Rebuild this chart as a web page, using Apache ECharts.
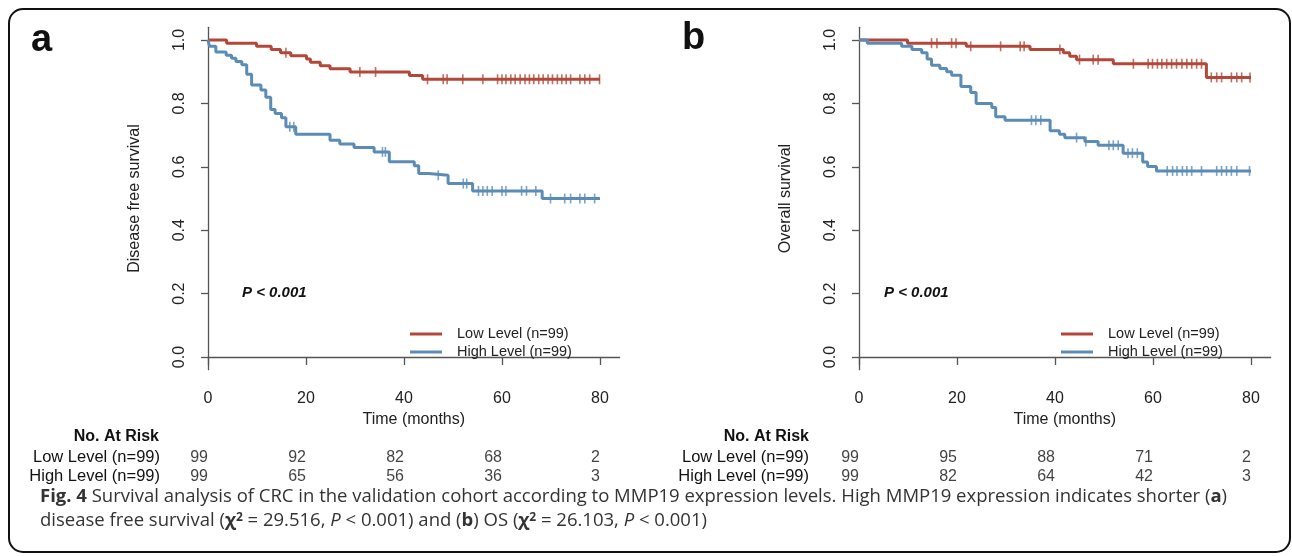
<!DOCTYPE html>
<html>
<head>
<meta charset="utf-8">
<script src="https://cdn.jsdelivr.net/npm/echarts@6/dist/echarts.min.js"></script>
<style>
  html, body { margin: 0; padding: 0; background: #fff; }
  #chart { width: 1292px; height: 556px; }
</style>
</head>
<body>
<div id="chart"></div>
<script>
var timeTicks = [0, 20, 40, 60, 80];
var survTicks = [0, 0.2, 0.4, 0.6, 0.8, 1.0];
var groupNames = ['Low Level (n=99)', 'High Level (n=99)'];

// panel a: disease free survival, [month, survival] after each event
var dfsLowSteps = [[0, 1], [3.8, 0.990], [9.9, 0.980], [12.9, 0.970], [14.8, 0.960], [16.9, 0.950],
  [20.1, 0.940], [20.9, 0.930], [22.9, 0.919], [24.9, 0.909], [29.0, 0.899], [41.1, 0.888],
  [43.8, 0.876], [80, 0.876]];
var dfsLowCensor = [15.9, 31.0, 34.2, 44.8, 48.0, 48.8, 52.0, 56.1, 59.1, 60.0, 60.8, 61.8, 62.7,
  63.7, 64.7, 65.6, 66.5, 67.5, 68.4, 69.4, 70.3, 71.3, 72.2, 73.1, 74.0, 75.9, 76.9, 77.9, 79.9];
var dfsHighSteps = [[0, 1], [0.3, 0.980], [1.6, 0.962], [3.7, 0.952], [4.8, 0.942], [5.7, 0.932],
  [6.9, 0.922], [7.9, 0.892], [8.9, 0.858], [10.8, 0.842], [11.8, 0.819], [12.8, 0.781],
  [13.7, 0.768], [15.0, 0.755], [15.9, 0.726], [17.9, 0.703], [24.9, 0.684], [26.9, 0.672],
  [29.8, 0.661], [33.9, 0.647], [37.0, 0.616], [42.1, 0.603], [43.0, 0.579], [45.0, 0.573],
  [49.0, 0.547], [54.0, 0.524], [68.2, 0.500], [80, 0.500]];
var dfsHighCensor = [16.7, 17.5, 35.6, 36.2, 47.0, 52.1, 52.8, 55.2, 56.1, 57.0, 58.0, 60.0, 60.8,
  64.0, 65.0, 66.9, 69.9, 72.8, 74.0, 75.9, 76.9, 78.9];

// panel b: overall survival
var osLowSteps = [[0, 1], [9.9, 0.990], [21.9, 0.980], [34.9, 0.970], [41.7, 0.960], [43.0, 0.949],
  [44.4, 0.938], [51.9, 0.925], [70.9, 0.882], [80, 0.882]];
var osLowCensor = [14.8, 15.9, 18.9, 19.8, 22.8, 28.9, 32.9, 33.7, 41.0, 45.0, 47.8, 48.8, 56.0,
  59.0, 59.9, 60.9, 61.8, 62.8, 63.8, 64.8, 65.9, 66.9, 67.9, 68.9, 69.9, 71.9, 73.0, 74.0, 76.0,
  77.1, 78.1, 79.8];
var osHighSteps = [[0, 1], [1.7, 0.990], [8.7, 0.980], [10.8, 0.970], [12.8, 0.960], [13.9, 0.940],
  [14.8, 0.920], [16.5, 0.910], [17.9, 0.900], [18.9, 0.889], [20.8, 0.853], [22.8, 0.834],
  [23.9, 0.800], [27.1, 0.787], [27.9, 0.758], [29.8, 0.747], [39.0, 0.714], [40.9, 0.703],
  [42.0, 0.692], [46.1, 0.680], [48.8, 0.668], [53.9, 0.643], [57.9, 0.615], [58.9, 0.601],
  [60.7, 0.587], [80, 0.587]];
var osHighCensor = [35.2, 36.1, 37.1, 44.4, 46.3, 51.0, 51.9, 52.9, 54.9, 55.8, 56.8, 62.9, 64.0,
  64.9, 66.0, 66.9, 67.9, 69.9, 73.0, 74.0, 75.0, 76.0, 77.1, 79.7];

// numbers at risk at 0, 20, 40, 60, 80 months
var dfsLowRisk = [99, 92, 82, 68, 2];
var dfsHighRisk = [99, 65, 56, 36, 3];
var osLowRisk = [99, 95, 88, 71, 2];
var osHighRisk = [99, 82, 64, 42, 3];

var red = '#b3483a';
var blue = '#5b8cb6';
var axisColor = '#555';
var font = '"Liberation Sans", Arial, sans-serif';
var capFont = '"Open Sans", sans-serif';

function survAt(steps, t) {
  var s = steps[0][1];
  for (var i = 0; i < steps.length; i++) {
    if (steps[i][0] <= t) s = steps[i][1];
  }
  return s;
}
function censorPoints(steps, times) {
  return times.map(function (t) { return [t, survAt(steps, t)]; });
}
function riskPoints(lowRisk, highRisk) {
  var pts = [];
  timeTicks.forEach(function (t, i) {
    pts.push([t, 0, lowRisk[i]]);
    pts.push([t, 1, highRisk[i]]);
  });
  return pts;
}

var panelLeft = [208, 859];
var plotW = 411.6;

function mainXAxis(idx) {
  return {
    gridIndex: idx, type: 'value', min: 0, max: 84,
    name: 'Time (months)', nameLocation: 'middle', nameGap: 40,
    nameTextStyle: { fontSize: 16, color: '#222', fontFamily: font },
    axisLine: { lineStyle: { color: axisColor, width: 1.3 } },
    axisTick: { customValues: timeTicks, length: 8, lineStyle: { color: axisColor, width: 1.3 } },
    axisLabel: { customValues: timeTicks, fontSize: 16, color: '#222', margin: 21, fontFamily: font },
    splitLine: { show: false }
  };
}
function mainYAxis(idx, title) {
  return {
    gridIndex: idx, type: 'value', min: -0.04, max: 1.04,
    name: title, nameLocation: 'middle', nameGap: 65, nameRotate: 90,
    nameTextStyle: { fontSize: 16, color: '#222', fontFamily: font },
    axisLine: { show: true, lineStyle: { color: axisColor, width: 1.3 } },
    axisTick: { show: true, customValues: survTicks, length: 7, lineStyle: { color: axisColor, width: 1.3 } },
    axisLabel: {
      customValues: survTicks, rotate: 90, fontSize: 16, color: '#222', margin: 20, fontFamily: font,
      formatter: function (v) { return v.toFixed(1); }
    },
    splitLine: { show: false }
  };
}
function stepSeries(name, idx, steps, color) {
  return {
    name: name, type: 'line', xAxisIndex: idx, yAxisIndex: idx, step: 'end',
    data: steps, symbol: 'none', showSymbol: false, silent: true,
    lineStyle: { color: color, width: 3 }, itemStyle: { color: color }
  };
}
function censorSeries(idx, steps, times, color) {
  return {
    name: 'censor', type: 'scatter', xAxisIndex: idx, yAxisIndex: idx,
    data: censorPoints(steps, times), symbol: 'rect', symbolSize: [1.6, 10], silent: true,
    itemStyle: { color: color, opacity: 0.8 }
  };
}
function riskSeries(idx, lowRisk, highRisk) {
  return {
    name: 'risk', type: 'scatter', xAxisIndex: idx, yAxisIndex: idx,
    data: riskPoints(lowRisk, highRisk), symbolSize: 0, silent: true,
    label: {
      show: true, position: 'left', distance: 0, fontSize: 16, color: '#111', fontFamily: font,
      formatter: function (p) { return String(p.value[2]); }
    }
  };
}
function riskYAxis(idx, margin) {
  return {
    gridIndex: idx, type: 'category', data: groupNames, inverse: true,
    axisLine: { show: false }, axisTick: { show: false },
    axisLabel: { interval: 0, fontSize: 16.5, color: '#111', margin: margin, fontFamily: font }
  };
}
function legendAt(left) {
  return {
    data: groupNames, orient: 'vertical', left: left, top: 325, padding: 0, icon: 'rect',
    itemWidth: 32, itemHeight: 3, itemGap: 0, selectedMode: false,
    textStyle: { fontSize: 14.5, lineHeight: 18, color: '#222', fontFamily: font, padding: [0, 0, 0, 10] }
  };
}
function captionRich() {
  return {
    b: { fontWeight: 'bold', color: '#222', fontSize: 18.5, fontFamily: capFont },
    i: { fontStyle: 'italic', fontSize: 18.5, fontFamily: capFont },
    chi: { fontWeight: 'bold', fontSize: 18.5, color: '#222', fontFamily: capFont },
    sup: { fontWeight: 'bold', fontSize: 12, color: '#222', verticalAlign: 'top', fontFamily: capFont }
  };
}

var chart = echarts.init(document.getElementById('chart'));
var option = {
  animation: false,
  textStyle: { fontFamily: font },
  grid: [
    { left: panelLeft[0], top: 27.3, width: plotW, height: 342.4 },
    { left: panelLeft[1], top: 27.3, width: plotW, height: 342.4 },
    { left: panelLeft[0], top: 448, width: plotW, height: 38 },
    { left: panelLeft[1], top: 448, width: plotW, height: 38 }
  ],
  xAxis: [
    mainXAxis(0), mainXAxis(1),
    { gridIndex: 2, type: 'value', min: 0, max: 84, show: false },
    { gridIndex: 3, type: 'value', min: 0, max: 84, show: false }
  ],
  yAxis: [
    mainYAxis(0, 'Disease free survival'), mainYAxis(1, 'Overall survival'),
    riskYAxis(2, 48), riskYAxis(3, 50)
  ],
  legend: [legendAt(410), legendAt(1061)],
  series: [
    stepSeries(groupNames[0], 0, dfsLowSteps, red),
    stepSeries(groupNames[1], 0, dfsHighSteps, blue),
    censorSeries(0, dfsLowSteps, dfsLowCensor, red),
    censorSeries(0, dfsHighSteps, dfsHighCensor, blue),
    stepSeries(groupNames[0], 1, osLowSteps, red),
    stepSeries(groupNames[1], 1, osHighSteps, blue),
    censorSeries(1, osLowSteps, osLowCensor, red),
    censorSeries(1, osHighSteps, osHighCensor, blue),
    riskSeries(2, dfsLowRisk, dfsHighRisk),
    riskSeries(3, osLowRisk, osHighRisk)
  ],
  graphic: [
    { type: 'rect', shape: { x: 9, y: 9, width: 1281, height: 543, r: 14 },
      style: { fill: 'none', stroke: '#111', lineWidth: 2 }, silent: true },
    { type: 'text', left: 31, top: 22, style: { text: 'a', font: 'bold 38px ' + font, fill: '#111' } },
    { type: 'text', left: 682, top: 20, style: { text: 'b', font: 'bold 38px ' + font, fill: '#111' } },
    { type: 'text', x: 242, y: 293, style: { text: 'P < 0.001', font: 'italic bold 15px ' + font, fill: '#111', verticalAlign: 'middle' } },
    { type: 'text', x: 884, y: 293, style: { text: 'P < 0.001', font: 'italic bold 15px ' + font, fill: '#111', verticalAlign: 'middle' } },
    { type: 'text', x: 159, y: 437, style: { text: 'No. At Risk', font: 'bold 16px ' + font, fill: '#111', align: 'right', verticalAlign: 'middle' } },
    { type: 'text', x: 809, y: 437, style: { text: 'No. At Risk', font: 'bold 16px ' + font, fill: '#111', align: 'right', verticalAlign: 'middle' } },
    { type: 'text', x: 40, y: 497, style: {
      text: '{b|Fig. 4} Survival analysis of CRC in the validation cohort according to MMP19 expression levels. High MMP19 expression indicates shorter ({b|a})',
      font: '18.5px ' + capFont, fill: '#333', verticalAlign: 'middle', rich: captionRich() } },
    { type: 'text', x: 40, y: 521, style: {
      text: 'disease free survival ({chi|χ}{sup|2} = 29.516, {i|P} < 0.001) and ({b|b}) OS ({chi|χ}{sup|2} = 26.103, {i|P} < 0.001)',
      font: '18.5px ' + capFont, fill: '#333', verticalAlign: 'middle', rich: captionRich() } }
  ]
};
chart.setOption(option);
</script>
</body>
</html>
